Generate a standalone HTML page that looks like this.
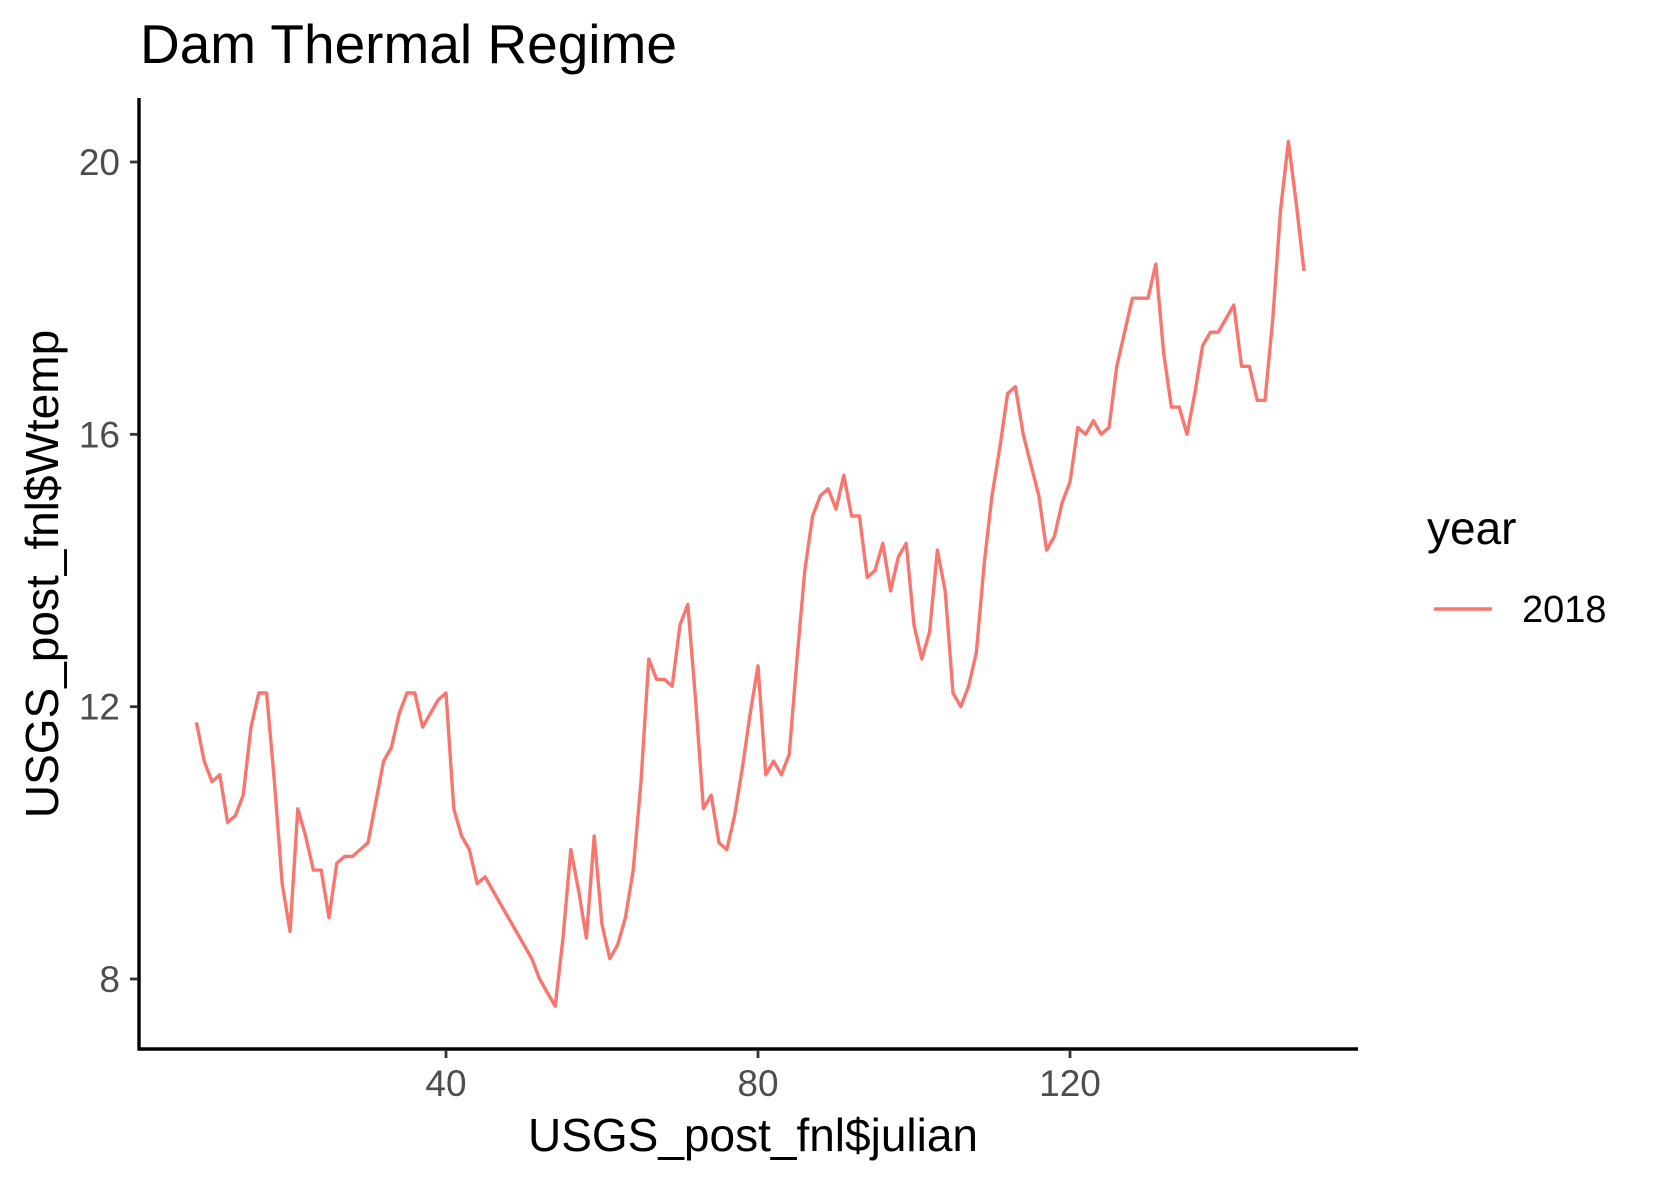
<!DOCTYPE html>
<html><head><meta charset="utf-8"><style>
body{margin:0;background:#fff}
svg{display:block;font-family:"Liberation Sans",sans-serif}
</style></head><body>
<svg id="chart" width="1653" height="1181" viewBox="0 0 1653 1181" xmlns="http://www.w3.org/2000/svg">
<rect width="1653" height="1181" fill="#fff"/>
<text x="140" y="63" font-size="55" fill="#000">Dam Thermal Regime</text>
<g id="plot"></g>
<text x="753" y="1151" font-size="46" text-anchor="middle" fill="#000">USGS_post_fnl$julian</text>
<text transform="translate(58,574) rotate(-90)" font-size="46" text-anchor="middle" fill="#000">USGS_post_fnl$Wtemp</text>
<text x="1427" y="544" font-size="46" fill="#000">year</text>
<line x1="1434" y1="609" x2="1492" y2="609" stroke="#F8766D" stroke-width="3.4"/>
<text x="1522" y="622" font-size="38" fill="#000">2018</text>
</svg>
<script>
const days=[8,9,10,11,12,13,14,15,16,17,18,19,20,21,22,23,24,25,26,27,28,29,30,31,32,33,34,35,36,37,38,39,40,41,42,43,44,45,51,52,53,54,55,56,57,58,59,60,61,62,63,64,65,66,67,68,69,70,71,72,73,74,75,76,77,78,79,80,81,82,83,84,85,86,87,88,89,90,91,92,93,94,95,96,97,98,99,100,101,102,103,104,105,106,107,108,109,110,111,112,113,114,115,116,117,118,119,120,121,122,123,124,125,126,127,128,129,130,131,132,133,134,135,136,137,138,139,140,141,142,143,144,145,146,147,148,149,150];
const wtemp=[11.77,11.2,10.9,11.0,10.3,10.4,10.7,11.7,12.2,12.2,10.9,9.4,8.7,10.5,10.1,9.6,9.6,8.9,9.7,9.8,9.8,9.9,10.0,10.6,11.2,11.4,11.9,12.2,12.2,11.7,11.9,12.1,12.2,10.5,10.1,9.9,9.4,9.5,8.3,8.0,7.8,7.6,8.6,9.9,9.3,8.6,10.1,8.8,8.3,8.5,8.9,9.6,10.9,12.7,12.4,12.4,12.3,13.2,13.5,12.1,10.5,10.7,10.0,9.9,10.4,11.1,11.9,12.6,11.0,11.2,11.0,11.3,12.7,14.0,14.8,15.1,15.2,14.9,15.4,14.8,14.8,13.9,14.0,14.4,13.7,14.2,14.4,13.2,12.7,13.1,14.3,13.7,12.2,12.0,12.3,12.8,14.1,15.1,15.8,16.6,16.7,16.0,15.55,15.1,14.3,14.5,15.0,15.3,16.1,16.0,16.2,16.0,16.1,17.0,17.5,18.0,18.0,18.0,18.5,17.2,16.4,16.4,16.0,16.6,17.3,17.5,17.5,17.7,17.9,17.0,17.0,16.5,16.5,17.7,19.3,20.3,19.4,18.4];
const xTicks=[40,80,120];
const yTicks=[8,12,16,20];
const NS="http://www.w3.org/2000/svg";
const xs=v=>446+(v-40)*(1070-446)/80;
const ys=v=>979-(v-8)*(979-162)/12;
const g=document.getElementById('plot');
function mk(t,a){const e=document.createElementNS(NS,t);for(const k in a)e.setAttribute(k,a[k]);g.appendChild(e);return e;}
let d=days.map((x,i)=>(i?'L':'M')+xs(x).toFixed(1)+','+ys(wtemp[i]).toFixed(1)).join('');
const p=mk('path',{d:d,fill:'none',stroke:'#F8766D','stroke-width':3.4,'stroke-linejoin':'round'});


const ya=mk('line',{x1:139,y1:98,x2:139,y2:1050,stroke:'#000','stroke-width':3.4});


const xa=mk('line',{x1:137.5,y1:1049,x2:1358,y2:1049,stroke:'#000','stroke-width':3.4});


xTicks.forEach(v=>{
 const t=mk('line',{x1:xs(v),y1:1050,x2:xs(v),y2:1058,stroke:'#333','stroke-width':2.8});
 
 
 const l=mk('text',{x:xs(v),y:1096,'font-size':37,'text-anchor':'middle',fill:'#4d4d4d'});
 l.textContent=v;
 
 
});
yTicks.forEach(v=>{
 const t=mk('line',{x1:130,y1:ys(v),x2:138,y2:ys(v),stroke:'#333','stroke-width':2.8});
 
 
 const l=mk('text',{x:120,y:ys(v)+13,'font-size':37,'text-anchor':'end',fill:'#4d4d4d'});
 l.textContent=v;
 
 
});
</script>
</body></html>
